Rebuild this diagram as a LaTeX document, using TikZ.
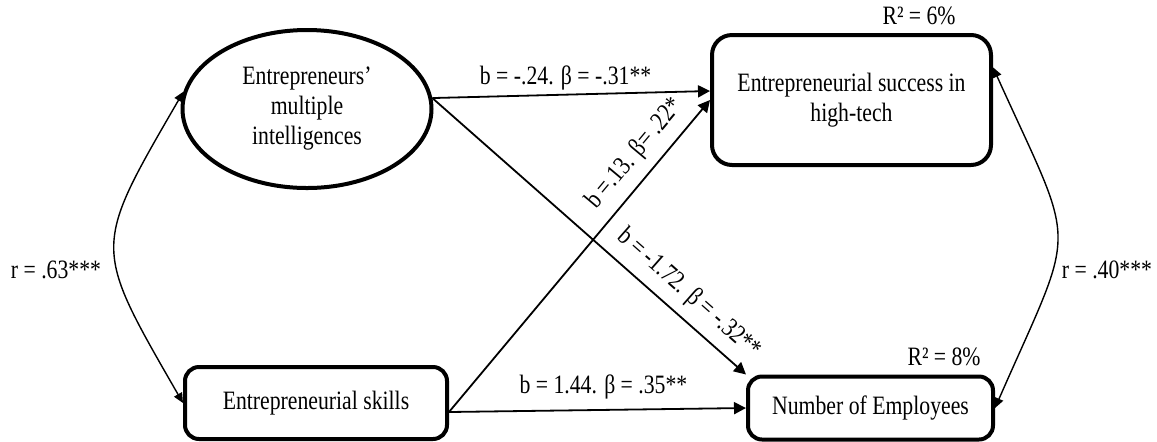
\documentclass[tikz,border=0pt]{standalone}
\usepackage{fontspec}
\setmainfont[FakeStretch=0.82]{Liberation Serif}
\usetikzlibrary{shapes.geometric,arrows.meta}

\begin{document}
\begin{tikzpicture}[x=0.5pt,y=-0.5pt,font=\fontsize{13.25}{15}\selectfont]
		\tikzstyle{construct}=[draw,line width=2pt,align=center,inner sep=0pt]
		\tikzstyle{latent}=[construct,ellipse,minimum width=124.5pt,minimum height=79pt]
		\tikzstyle{measured}=[construct,rectangle,rounded corners=7pt]
		\tikzstyle{coef}=[inner sep=2pt]
		\tikzstyle{effect}=[line width=0.9pt,-{Triangle[length=6pt,width=6pt]}]
		\tikzstyle{corr}=[line width=0.7pt,{Triangle[length=5pt,width=4.5pt]}-{Triangle[length=5pt,width=4.5pt]}]
		\useasboundingbox (0,0) rectangle (1157,441);
		\node[latent] (mi) at (307,109) {Entrepreneurs’\\multiple\\intelligences};
		\node[measured,minimum width=131pt,minimum height=36pt] (skills) at (316,403) {Entrepreneurial skills};
		\node[measured,rounded corners=10pt,minimum width=139.5pt,minimum height=65pt] (succ) at (851.5,100) {Entrepreneurial success in\\high-tech};
		\node[measured,minimum width=122.5pt,minimum height=31.5pt] (emp) at (870.5,408) {Number of Employees};
		\node[coef,anchor=south east] (r2succ) at ([xshift=-16.5pt,yshift=2pt]succ.north east) {R² = 6\%};
		\node[coef,anchor=south east] (r2emp) at ([xshift=-5pt,yshift=2pt]emp.north east) {R² = 8\%};
		% regression paths
		\draw[effect] (mi.5) -- node[coef,above,pos=0.48] (b1) {b = -.24. β = -.31**} ([yshift=4.5pt]succ.west);
		\draw[effect] ([yshift=-4.5pt]skills.east) -- node[coef,above=3pt,pos=0.52] (b2) {b = 1.44. β = .35**} (emp.west);
		\draw[effect] ([yshift=-4.5pt]skills.east) -- node[coef,sloped,above=3pt,pos=0.78] (b3) {b =.13. β= .22*} (succ.west);
		\draw[effect] (mi.5) -- node[coef,sloped,above=3pt,pos=0.77] (b4) {b = -1.72. β = -.32**} (emp.north west);
		% correlations
		\draw[corr] (mi.172) to[bend right=30,looseness=1.5] (skills.west);
		\draw[corr] (succ.13) to[bend left=24,looseness=1.55] (emp.east);
		\node (r1) at (56,270) {r = .63***};
		\node (r2) at (1107,270) {r = .40***};
	\end{tikzpicture}
\end{document}
